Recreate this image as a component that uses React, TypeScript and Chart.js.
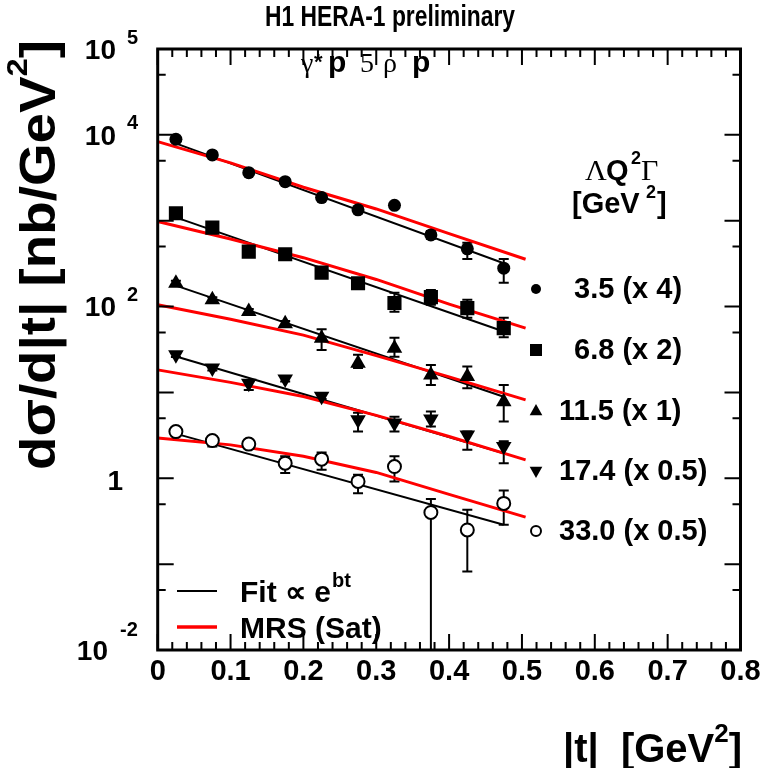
import React, { useEffect, useRef } from "react";
import { Chart, registerables } from "chart.js";

Chart.register(...registerables);

// ---------- data ----------
const binT = [0.025, 0.075, 0.125, 0.175, 0.225, 0.275, 0.325, 0.375, 0.425, 0.475];

// Q2 = 3.5 (x 4)
const q35 = [8890, 5840, 3630, 2850, 1860, 1340, 1510, 684, 470, 280];
const q35Hi = [9500, 6200, 3850, 3000, 1960, 1420, 1600, 760, 552, 357];
const q35Lo = [8300, 5500, 3420, 2700, 1760, 1260, 1420, 615, 359, 190];
// Q2 = 6.8 (x 2)
const q68 = [1220, 832, 437, 407, 249, 187, 110, 129, 96, 56];
const q68Hi = [1320, 900, 475, 440, 272, 210, 145, 156, 120, 74];
const q68Lo = [1130, 770, 400, 375, 228, 167, 87, 105, 74, 44];
// Q2 = 11.5 (x 1)
const q115 = [187, 120, 87.5, 63, 42.9, 21.9, 32.8, 16, 15.3, 7.8];
const q115Hi = [200, 128, 94, 68, 54.6, 27.4, 43.3, 20.9, 20, 12.2];
const q115Lo = [175, 112, 81, 58, 31.3, 19.3, 26, 12.2, 11.2, 4.6];
// Q2 = 17.4 (x 0.5)
const q174 = [27.4, 19.2, 12.8, 14.3, 9.0, 4.8, 4.4, 4.9, 3.2, 2.35];
const q174Hi = [29, 20.5, 13.8, 15.2, 9.6, 5.8, 5.2, 6.0, 3.5, 2.7];
const q174Lo = [25.8, 18, 10.7, 13.4, 8.4, 3.5, 3.5, 4.0, 2.15, 1.5];
// Q2 = 33.0 (x 0.5)
const q330 = [3.5, 2.75, 2.5, 1.5, 1.67, 0.92, 1.37, 0.4, 0.25, 0.51];
const q330Hi = [3.75, 2.95, 2.65, 1.8, 2.0, 1.1, 1.8, 0.573, 0.43, 0.72];
const q330Lo = [3.3, 2.34, 2.35, 1.15, 1.26, 0.67, 0.92, 0.001, 0.082, 0.288];

// exponential fits (black)
const fitT = [0.022, 0.475];
const fit35 = [8110, 320];
const fit68 = [1117, 51.2];
const fit115 = [179, 8.9];
const fit174 = [26.7, 1.96];
const fit330 = [3.36, 0.288];

// MRS (Sat) predictions (red)
const mrsT = [0, 0.1, 0.2, 0.3, 0.4, 0.505];
const mrs35 = [8340, 4720, 2455, 1371, 708, 356];
const mrs68 = [977, 612, 371, 207, 107, 56.1];
const mrs115 = [105, 71.3, 46.5, 26.8, 15.2, 8.2];
const mrs174 = [18.3, 13.1, 8.97, 5.4, 3.07, 1.64];
const mrs330 = [2.94, 2.45, 1.81, 1.17, 0.649, 0.353];

const seriesLabels = [" 3.5 (x 4)", " 6.8 (x 2)", "11.5 (x 1)", "17.4 (x 0.5)", "33.0 (x 0.5)"];

const xTickValues = [0, 0.1, 0.2, 0.3, 0.4, 0.5, 0.6, 0.7, 0.8];
const xTickLabels = ["0", "0.1", "0.2", "0.3", "0.4", "0.5", "0.6", "0.7", "0.8"];
const yTickValues = [1e5, 1e4, 1e2, 1, 1e-2];
const yTickExps = ["5", "4", "2", "", "-2"];

// ---------- helpers ----------
const W = 776;
const H = 768;
const SANS = '"Liberation Sans", Arial, sans-serif';
const SERIF = '"Liberation Serif", "Times New Roman", serif';

const series = [
  { v: q35, hi: q35Hi, lo: q35Lo, fit: fit35, mrs: mrs35, style: "circle", rot: 0, r: 6.5, fill: "#000" },
  { v: q68, hi: q68Hi, lo: q68Lo, fit: fit68, mrs: mrs68, style: "rect", rot: 0, r: 10, fill: "#000" },
  { v: q115, hi: q115Hi, lo: q115Lo, fit: fit115, mrs: mrs115, style: "triangle", rot: 0, r: 9, fill: "#000" },
  { v: q174, hi: q174Hi, lo: q174Lo, fit: fit174, mrs: mrs174, style: "triangle", rot: 180, r: 9, fill: "#000" },
  { v: q330, hi: q330Hi, lo: q330Lo, fit: fit330, mrs: mrs330, style: "circle", rot: 0, r: 6.5, fill: "#fff" },
];

function drawMarker(ctx: CanvasRenderingContext2D, kind: string, rot: number, x: number, y: number, r: number, fill: string) {
  ctx.save();
  ctx.fillStyle = fill;
  ctx.strokeStyle = "#000";
  ctx.lineWidth = 2;
  ctx.beginPath();
  if (kind === "circle") {
    ctx.arc(x, y, r, 0, Math.PI * 2);
  } else if (kind === "rect") {
    ctx.rect(x - r, y - r, 2 * r, 2 * r);
  } else {
    const s = rot ? -1 : 1;
    ctx.moveTo(x, y - s * r);
    ctx.lineTo(x + r * 0.9, y + s * r * 0.6);
    ctx.lineTo(x - r * 0.9, y + s * r * 0.6);
    ctx.closePath();
  }
  ctx.fill();
  if (fill !== "#000") ctx.stroke();
  ctx.restore();
}

function text(ctx: CanvasRenderingContext2D, s: string, x: number, y: number, font: string, align: CanvasTextAlign = "left", base: CanvasTextBaseline = "middle", maxW?: number) {
  ctx.font = font;
  ctx.textAlign = align;
  ctx.textBaseline = base;
  if (maxW) ctx.fillText(s, x, y, maxW);
  else ctx.fillText(s, x, y);
}

const errorBarPlugin = {
  id: "errorBars",
  beforeDatasetsDraw(chart: any) {
    const { ctx, chartArea: a, scales } = chart;
    const xs = scales.x, ys = scales.y;
    ctx.save();
    ctx.beginPath();
    ctx.rect(a.left, a.top, a.right - a.left, a.bottom - a.top);
    ctx.clip();
    ctx.strokeStyle = "#000";
    ctx.lineWidth = 2;
    series.forEach((s) => {
      binT.forEach((t, i) => {
        const px = xs.getPixelForValue(t);
        const yh = ys.getPixelForValue(s.hi[i]);
        const yl = ys.getPixelForValue(s.lo[i]);
        ctx.beginPath();
        ctx.moveTo(px, yh);
        ctx.lineTo(px, yl);
        ctx.moveTo(px - 5, yh);
        ctx.lineTo(px + 5, yh);
        ctx.moveTo(px - 5, yl);
        ctx.lineTo(px + 5, yl);
        ctx.stroke();
      });
    });
    ctx.restore();
  },
};

const framePlugin = {
  id: "frame",
  afterDraw(chart: any) {
    const { ctx, chartArea: a, scales } = chart;
    const xs = scales.x, ys = scales.y;
    ctx.save();
    ctx.fillStyle = "#000";
    ctx.strokeStyle = "#000";

    // ticks
    ctx.lineWidth = 2;
    ctx.beginPath();
    for (let k = 0; k <= 40; k++) {
      const px = xs.getPixelForValue(k * 0.02);
      const len = k % 5 === 0 ? 16 : 8;
      ctx.moveTo(px, a.bottom);
      ctx.lineTo(px, a.bottom - len);
      ctx.moveTo(px, a.top);
      ctx.lineTo(px, a.top + len);
    }
    for (let e = -2; e <= 5; e++) {
      const vals: [number, number][] = [[Math.pow(10, e), 16]];
      if (e < 5) vals.push([5 * Math.pow(10, e), 8]);
      vals.forEach(([v, len]) => {
        const py = ys.getPixelForValue(v);
        ctx.moveTo(a.left, py);
        ctx.lineTo(a.left + len, py);
        ctx.moveTo(a.right, py);
        ctx.lineTo(a.right - len, py);
      });
    }
    ctx.stroke();

    // frame
    ctx.lineWidth = 3;
    ctx.strokeRect(a.left, a.top, a.right - a.left, a.bottom - a.top);

    // x tick labels
    xTickValues.forEach((v, i) => {
      text(ctx, xTickLabels[i], xs.getPixelForValue(v), 672, `bold 29px ${SANS}`, "center");
    });

    // y tick labels
    yTickValues.forEach((v, i) => {
      const py = ys.getPixelForValue(v);
      const ex = yTickExps[i];
      if (!ex) {
        text(ctx, "1", 123, py + 4, `bold 28px ${SANS}`, "right");
      } else {
        const neg = ex.startsWith("-");
        text(ctx, "10", neg ? 108 : 116, py + 2, `bold 28px ${SANS}`, "right");
        text(ctx, ex, neg ? 120 : 127, py + 2 - (neg ? 22 : 13), `bold 20px ${SANS}`, "left");
      }
    });

    // y axis title (rotated), stretched to the reference length
    ctx.save();
    ctx.translate(55, 255);
    ctx.rotate(-Math.PI / 2);
    const F1 = `bold 50px ${SANS}`;
    const F2 = `bold 30px ${SANS}`;
    ctx.font = F1;
    const t1 = "d\u03c3/d|t| [nb/GeV";
    const w1 = ctx.measureText(t1).width;
    const w3 = ctx.measureText("]").width;
    ctx.font = F2;
    const w2 = ctx.measureText("2").width;
    const tot = w1 + w2 + w3;
    const sx = 430 / tot;
    ctx.scale(sx, 1);
    let cx = -tot / 2;
    text(ctx, t1, cx, 0, F1, "left", "alphabetic");
    cx += w1;
    text(ctx, "2", cx, -28, F2, "left", "alphabetic");
    cx += w2;
    text(ctx, "]", cx, 0, F1, "left", "alphabetic");
    ctx.restore();

    // x title
    ctx.font = `bold 40px ${SANS}`;
    const xt = "|t|  [GeV";
    const xw = ctx.measureText(xt).width;
    text(ctx, xt, 563, 762, `bold 40px ${SANS}`, "left", "alphabetic");
    text(ctx, "2", 563 + xw, 742, `bold 26px ${SANS}`, "left", "alphabetic");
    ctx.font = `bold 26px ${SANS}`;
    const w2x = ctx.measureText("2").width;
    text(ctx, "]", 563 + xw + w2x, 762, `bold 40px ${SANS}`, "left", "alphabetic");

    // top title
    text(ctx, "H1 HERA-1 preliminary", 390, 26, `bold 29px ${SANS}`, "center", "alphabetic", 250);

    // reaction label
    const by = 72;
    text(ctx, "\u03b3", 301, by, `28px ${SERIF}`, "left", "alphabetic");
    text(ctx, "*", 314, by - 3, `bold 22px ${SANS}`, "left", "alphabetic");
    text(ctx, "p", 328, by, `bold 30px ${SANS}`, "left", "alphabetic");
    text(ctx, "5", 360, by, `28px ${SERIF}`, "left", "alphabetic");
    text(ctx, "\u03c1", 383, by, `28px ${SERIF}`, "left", "alphabetic");
    text(ctx, "p", 412, by, `bold 30px ${SANS}`, "left", "alphabetic");

    // right legend header
    text(ctx, "\u039b", 585, 180, `30px ${SERIF}`, "left", "alphabetic");
    text(ctx, "Q", 606, 180, `bold 29px ${SANS}`, "left", "alphabetic");
    text(ctx, "2", 631, 164, `bold 18px ${SANS}`, "left", "alphabetic");
    text(ctx, "\u0393", 641, 180, `30px ${SERIF}`, "left", "alphabetic");
    text(ctx, "[GeV", 572, 213, `bold 29px ${SANS}`, "left", "alphabetic");
    text(ctx, "2", 646, 198, `bold 18px ${SANS}`, "left", "alphabetic");
    text(ctx, "]", 657, 213, `bold 29px ${SANS}`, "left", "alphabetic");

    // right legend rows
    const rowY = [289, 350, 411, 471, 531];
    const rowX = [566, 566, 559, 559, 559];
    series.forEach((s, i) => {
      const ry = rowY[i];
      const mr = s.style === "rect" ? 6 : s.style === "triangle" ? 7 : 5;
      drawMarker(ctx, s.style, s.rot, 536, ry, mr, s.fill);
      ctx.fillStyle = "#000";
      text(ctx, seriesLabels[i], rowX[i], ry + 1, `bold 29px ${SANS}`, "left");
    });

    // bottom-left legend
    ctx.lineWidth = 2;
    ctx.strokeStyle = "#000";
    ctx.beginPath();
    ctx.moveTo(177, 591);
    ctx.lineTo(217, 591);
    ctx.stroke();
    ctx.lineWidth = 3.5;
    ctx.strokeStyle = "#ff0000";
    ctx.beginPath();
    ctx.moveTo(177, 627);
    ctx.lineTo(217, 627);
    ctx.stroke();
    ctx.fillStyle = "#000";
    ctx.font = `bold 30px ${SANS}`;
    const fitTxt = "Fit \u221d e";
    const fw = ctx.measureText(fitTxt).width;
    text(ctx, fitTxt, 240, 602, `bold 30px ${SANS}`, "left", "alphabetic");
    text(ctx, "bt", 240 + fw + 1, 587, `bold 20px ${SANS}`, "left", "alphabetic");
    text(ctx, "MRS (Sat)", 240, 638, `bold 30px ${SANS}`, "left", "alphabetic");

    ctx.restore();
  },
};

export default function App() {
  const ref = useRef<HTMLCanvasElement | null>(null);

  useEffect(() => {
    if (!ref.current) return;
    const datasets: any[] = [];
    series.forEach((s) => {
      datasets.push({
        type: "scatter",
        data: binT.map((t, i) => ({ x: t, y: s.v[i] })),
        pointStyle: s.style,
        pointRotation: s.rot,
        pointRadius: s.r,
        pointBackgroundColor: s.fill,
        pointBorderColor: "#000",
        pointBorderWidth: s.fill === "#000" ? 0 : 2,
        order: 0,
      });
      datasets.push({
        type: "line",
        data: mrsT.map((t, i) => ({ x: t, y: s.mrs[i] })),
        borderColor: "#ff0000",
        borderWidth: 3,
        pointRadius: 0,
        showLine: true,
        fill: false,
        tension: 0,
        order: 1,
      });
      datasets.push({
        type: "line",
        data: fitT.map((t, i) => ({ x: t, y: s.fit[i] })),
        borderColor: "#000",
        borderWidth: 2,
        pointRadius: 0,
        showLine: true,
        fill: false,
        tension: 0,
        order: 2,
      });
    });

    const chart = new Chart(ref.current, {
      type: "scatter",
      data: { datasets },
      options: {
        animation: false,
        responsive: false,
        devicePixelRatio: 1,
        layout: { padding: { left: 157.7, top: 49, right: W - 740.5, bottom: H - 650 } },
        plugins: { legend: { display: false }, tooltip: { enabled: false }, title: { display: false } },
        scales: {
          x: { type: "linear", min: 0, max: 0.8, display: false },
          y: { type: "logarithmic", min: 0.01, max: 1e5, display: false },
        },
      },
      plugins: [errorBarPlugin, framePlugin],
    } as any);
    return () => chart.destroy();
  }, []);

  return (
    <canvas
      ref={ref}
      width={W}
      height={H}
      style={{ display: "block", position: "fixed", left: 0, top: 0, width: W, height: H, background: "#fff" }}
    />
  );
}
